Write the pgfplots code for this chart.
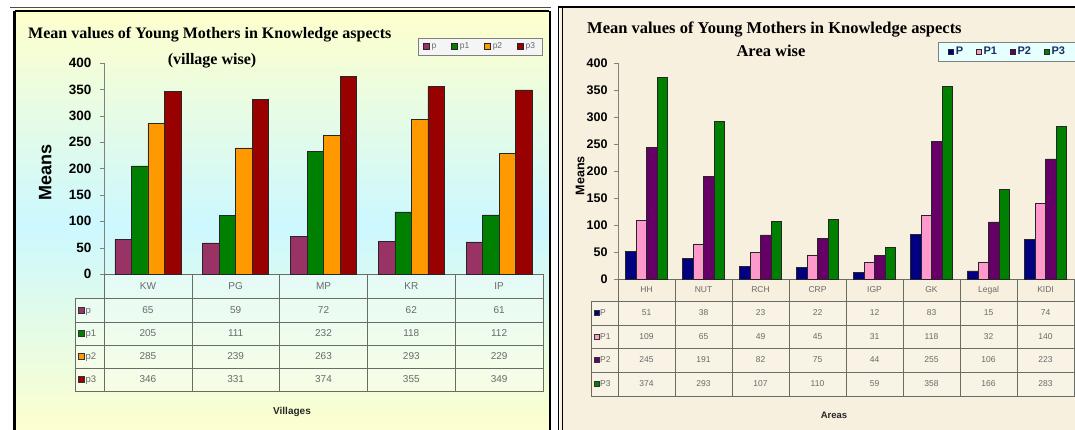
\documentclass[border=0pt]{standalone}
\usepackage{pgfplots}
\pgfplotsset{compat=1.18}
\usepackage{pgfplotstable}
\usepackage{fontspec}
\setmainfont{Liberation Sans}
\newfontfamily\serifb{Liberation Serif}

\definecolor{cp}{RGB}{153,51,102}
\definecolor{cpa}{RGB}{0,128,0}
\definecolor{cpb}{RGB}{255,153,0}
\definecolor{cpc}{RGB}{153,0,0}
\definecolor{rP}{RGB}{0,0,128}
\definecolor{rPa}{RGB}{255,153,204}
\definecolor{rPb}{RGB}{102,0,102}
\definecolor{rPc}{RGB}{0,128,0}
\definecolor{lyel}{RGB}{255,255,204}
\definecolor{lcyan}{RGB}{204,248,255}
\definecolor{cream}{RGB}{248,240,222}
\definecolor{tabline}{RGB}{105,110,100}
\definecolor{tabtxt}{RGB}{105,105,105}
\definecolor{legtxt}{RGB}{25,45,100}

\pgfplotstableread{
x lab p p1 p2 p3
0 KW 65 205 285 346
1 PG 59 111 239 331
2 MP 72 232 263 374
3 KR 62 118 293 355
4 IP 61 112 229 349
}\leftdata

\pgfplotstableread{
x lab P P1 P2 P3
0 HH 51 109 245 374
1 NUT 38 65 191 293
2 RCH 23 49 82 107
3 CRP 22 45 75 110
4 IGP 12 31 44 59
5 GK 83 118 255 358
6 Legal 15 32 106 166
7 KIDI 74 140 223 283
}\rightdata

\begin{document}
\begin{tikzpicture}[x=1pt,y=-1pt]
\path[use as bounding box] (0,0) rectangle (1075,430);
\begin{scope}
\clip (0,0) rectangle (1075,430);
\fill[white] (0,0) rectangle (1075,430);
% ---------- left panel background
\shade[top color=lyel, bottom color=lyel, middle color=lcyan] (14,10) rectangle (549,440);
% ---------- right panel background
\fill[cream] (560,8) rectangle (1080,440);

% ---------- left table
\fill[white,opacity=0.35] (75,298) rectangle (543,391);
\fill[white,opacity=0.35] (104,274) rectangle (543,298);
\draw[tabline,line width=0.6pt] (104,274) -- (543,274) -- (543,391) -- (75,391) -- (75,298) -- (543,298);
\foreach \yy in {322,345,368} {\draw[tabline,line width=0.6pt] (75,\yy) -- (543,\yy);}
\draw[tabline,line width=0.6pt] (104,274) -- (104,391);
\foreach \i in {1,...,4} {\draw[tabline,line width=0.6pt] ({104+87.8*\i},274) -- ({104+87.8*\i},391);}
\foreach \r in {0,...,4} {
  \pgfplotstablegetelem{\r}{lab}\of\leftdata
  \node[text=tabtxt,font=\fontsize{10}{10}\selectfont] at ({147.9+87.8*\r},286) {\pgfplotsretval};
}
\foreach \c/\yy/\col in {p/310/cp,p1/333.5/cpa,p2/356.5/cpb,p3/379.5/cpc} {
  \fill[\col,draw=black!80,line width=0.3pt] (78.5,\yy-3) rectangle (84.5,\yy+3);
  \node[text=tabtxt,font=\fontsize{9.5}{10}\selectfont,anchor=base west,inner sep=0.5pt] at (85,\yy+3.3) {\c};
  \foreach \r in {0,...,4} {
    \pgfplotstablegetelem{\r}{\c}\of\leftdata
    \node[text=tabtxt,font=\fontsize{10}{10}\selectfont] at ({147.9+87.8*\r},\yy) {\pgfplotsretval};
  }
}
\node[font=\bfseries\fontsize{10}{10}\selectfont,text=black!85] at (292,412) {Villages};

% ---------- left titles
\node[anchor=west,font=\serifb\bfseries\fontsize{16}{16}\selectfont,inner sep=0pt] at (28,35) {Mean values of Young Mothers in Knowledge aspects};
\node[font=\serifb\bfseries\fontsize{16}{16}\selectfont,inner sep=0pt] at (212,61) {(village wise)};

% ---------- right table
\fill[white,opacity=0.25] (591,301) rectangle (1074,396);
\draw[tabline,line width=0.6pt] (618,279) -- (1080,279);
\draw[tabline,line width=0.6pt] (591,301) -- (1080,301);
\foreach \yy in {325,348,372,396} {\draw[tabline,line width=0.6pt] (591,\yy) -- (1080,\yy);}
\draw[tabline,line width=0.6pt] (591,301) -- (591,396);
\draw[tabline,line width=0.6pt] (618,279) -- (618,396);
\foreach \i in {1,...,8} {\draw[tabline,line width=0.6pt] ({618+57*\i},279) -- ({618+57*\i},396);}
\foreach \r in {0,...,7} {
  \pgfplotstablegetelem{\r}{lab}\of\rightdata
  \node[text=tabtxt,font=\fontsize{8.5}{9}\selectfont] at ({646.5+57*\r},290) {\pgfplotsretval};
}
\foreach \c/\yy/\col in {P/313/rP,P1/336.5/rPa,P2/360/rPb,P3/384/rPc} {
  \fill[\col,draw=black!80,line width=0.3pt] (594,\yy-2.5) rectangle (599,\yy+2.5);
  \node[text=tabtxt,font=\fontsize{8.5}{9}\selectfont,anchor=west,inner sep=0.5pt] at (599.5,\yy) {\c};
  \foreach \r in {0,...,7} {
    \pgfplotstablegetelem{\r}{\c}\of\rightdata
    \node[text=tabtxt,font=\fontsize{8.5}{9}\selectfont] at ({646.5+57*\r},\yy) {\pgfplotsretval};
  }
}
\node[font=\bfseries\fontsize{9.5}{10}\selectfont,text=black!85] at (834,415) {Areas};

% ---------- right titles
\node[anchor=west,font=\serifb\bfseries\fontsize{16.5}{16.5}\selectfont,inner sep=0pt] at (587,30) {Mean values of Young Mothers in Knowledge aspects};
\node[font=\serifb\bfseries\fontsize{16.5}{16.5}\selectfont,inner sep=0pt] at (771,51) {Area wise};

% ---------- left axis
\begin{axis}[at={(104pt,-274pt)}, anchor=south west, scale only axis,
  width=439pt, height=211pt,
  xmin=-0.5, xmax=4.5, ymin=0, ymax=400,
  ybar=0pt, bar width=16.5pt,
  axis lines*=left, x axis line style={draw=none},
  y axis line style={draw=gray},
  xtick=\empty, ytick={0,50,...,400},
  tick align=outside, major tick length=4pt,
  ytick style={draw=gray},
  yticklabel style={font=\bfseries\fontsize{13.5}{14}\selectfont, /pgf/number format/assume math mode=true, xshift=-5pt},
  ylabel={Means},
  ylabel style={at={(axis description cs:-0.134,0.48)}, anchor=center, font=\bfseries\fontsize{18}{18}\selectfont},
  legend style={at={(axis description cs:0.715,1.118)}, anchor=north west, legend columns=4,
     draw=gray, fill=white!92!gray, font=\fontsize{8.5}{8.5}\selectfont, text=tabtxt,
     inner ysep=2.5pt, inner xsep=5pt,
     /tikz/every even column/.append style={column sep=13pt}},
  legend image code/.code={\fill[#1] (0pt,-3pt) rectangle (6pt,3pt);},
  clip=false,
]
\addplot[fill=cp, draw=black!85, line width=0.5pt] table[x=x,y=p]{\leftdata};
\addplot[fill=cpa, draw=black!85, line width=0.5pt] table[x=x,y=p1]{\leftdata};
\addplot[fill=cpb, draw=black!85, line width=0.5pt] table[x=x,y=p2]{\leftdata};
\addplot[fill=cpc, draw=black!85, line width=0.5pt] table[x=x,y=p3]{\leftdata};
\legend{p,p1,p2,p3}
\end{axis}

% ---------- right axis
\begin{axis}[at={(618pt,-279pt)}, anchor=south west, scale only axis,
  width=456pt, height=215.5pt,
  xmin=-0.5, xmax=7.5, ymin=0, ymax=400,
  ybar=0pt, bar width=10.5pt,
  axis lines*=left, x axis line style={draw=none},
  y axis line style={draw=gray},
  xtick=\empty, ytick={0,50,...,400},
  tick align=outside, major tick length=4pt,
  ytick style={draw=gray},
  yticklabel style={font=\bfseries\fontsize{12.5}{13}\selectfont, /pgf/number format/assume math mode=true, xshift=-3pt},
  ylabel={Means},
  ylabel style={at={(axis description cs:-0.083,0.48)}, anchor=center, font=\bfseries\fontsize{12.5}{13}\selectfont},
  legend style={at={(axis description cs:0.702,1.10)}, anchor=north west, legend columns=4,
     draw=gray, fill={rgb,255:red,230;green,255;blue,255}, font=\bfseries\fontsize{11}{11}\selectfont, text=legtxt,
     inner ysep=3pt, inner xsep=10pt,
     /tikz/every even column/.append style={column sep=11pt}},
  legend image code/.code={\fill[#1] (0pt,-2.5pt) rectangle (5pt,2.5pt);},
  clip=false,
]
\addplot[fill=rP, draw=black!85, line width=0.5pt] table[x=x,y=P]{\rightdata};
\addplot[fill=rPa, draw=black!85, line width=0.5pt] table[x=x,y=P1]{\rightdata};
\addplot[fill=rPb, draw=black!85, line width=0.5pt] table[x=x,y=P2]{\rightdata};
\addplot[fill=rPc, draw=black!85, line width=0.5pt] table[x=x,y=P3]{\rightdata};
\legend{P,P1,P2,P3}
\end{axis}

% ---------- panel borders
\draw[black!70,line width=0.8pt] (10,7) -- (551,7);
\draw[black,line width=2.5pt] (14.5,11) -- (549,11);
\draw[black,line width=3pt] (14.5,11) -- (14.5,440);
\draw[black,line width=2pt] (549.5,11) -- (549.5,440);
\draw[black,line width=1pt] (558,6) -- (558,440);
\draw[black,line width=1pt] (562,8) -- (562,440);
\draw[black,line width=2pt] (558,7) -- (1080,7);
\end{scope}
\end{tikzpicture}
\end{document}
